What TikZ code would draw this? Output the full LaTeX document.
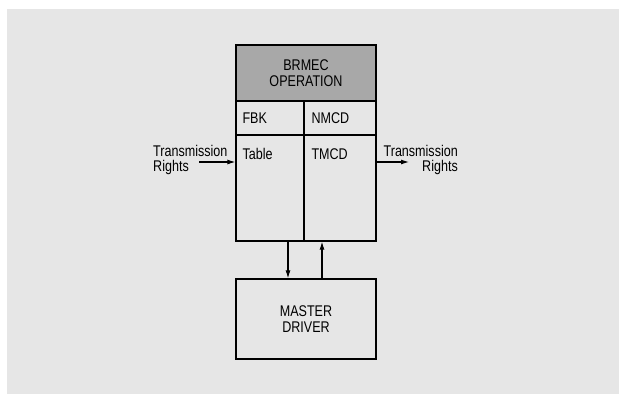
\documentclass[tikz,border=0pt]{standalone}
\usepackage{fontspec}
\setmainfont{Liberation Sans}[FakeStretch=0.81]
\usepackage{tikz}
\usetikzlibrary{arrows.meta, positioning, calc}
\definecolor{bgGray}{RGB}{230,230,230}
\definecolor{headGray}{RGB}{168,168,168}

\begin{document}
\begin{tikzpicture}[
  x=1pt, y=-1pt,
  font=\fontsize{15.5}{15.6}\selectfont,
  every node/.style={font=\fontsize{15.5}{15.6}\selectfont, inner sep=0pt},
  header/.style={
    rectangle, draw=black, line width=1.3pt, fill=headGray,
    minimum width=140pt, minimum height=56pt, align=center
  },
  cell/.style={
    rectangle, draw=black, line width=1.3pt,
    minimum width=#1, minimum height=34pt
  },
  tall/.style={
    rectangle, draw=black, line width=1.3pt,
    minimum width=#1, minimum height=106pt
  },
  driver/.style={
    rectangle, draw=black, line width=1.3pt,
    minimum width=140pt, minimum height=80pt, align=center
  },
  arr/.style={
    -{Latex[length=8pt,width=5pt]}, line width=1.1pt
  }
]

% Background
\fill[white] (0,0) rectangle (619,394);
\fill[bgGray] (7,9) rectangle (619,394);
\useasboundingbox (0,0) rectangle (619,394);

% BRMEC block
\node[header] (brmec) at (306,73) {BRMEC\\OPERATION};

\node[cell=68pt] (fbkcell) at (270,118) {};
\node[cell=72pt] (nmcdcell) at (340,118) {};
\node[tall=68pt] (tablecell) at (270,188) {};
\node[tall=72pt] (tmcdcell) at (340,188) {};

\node[anchor=west] (fbk) at ([xshift=7pt]fbkcell.west) {FBK};
\node[anchor=west] (nmcd) at ([xshift=8pt]nmcdcell.west) {NMCD};
\node[anchor=base west] (table) at ([xshift=7pt,yshift=-25pt]tablecell.north west) {Table};
\node[anchor=base west] (tmcd) at ([xshift=8pt,yshift=-25pt]tmcdcell.north west) {TMCD};

% Master driver
\node[driver] (master) at (306,319) {MASTER\\DRIVER};

% Side labels
\node[anchor=west, align=left] (rightsin) at (153,160) {Transmission\\Rights};
\node[anchor=east, align=right] (rightsout) at (458,160) {Transmission\\Rights};

\coordinate (inL) at (199,162);
\coordinate (outR) at (409,162);

% Connectors
\draw[arr] (inL) -- (inL -| tablecell.west);
\draw[arr] (outR -| tmcdcell.east) -- (outR);
\draw[arr] ([xshift=-18pt]master.north |- tablecell.south) -- ([xshift=-18pt]master.north);
\draw[arr] ([xshift=16pt]master.north) -- ([xshift=16pt]master.north |- tmcdcell.south);

\end{tikzpicture}
\end{document}
